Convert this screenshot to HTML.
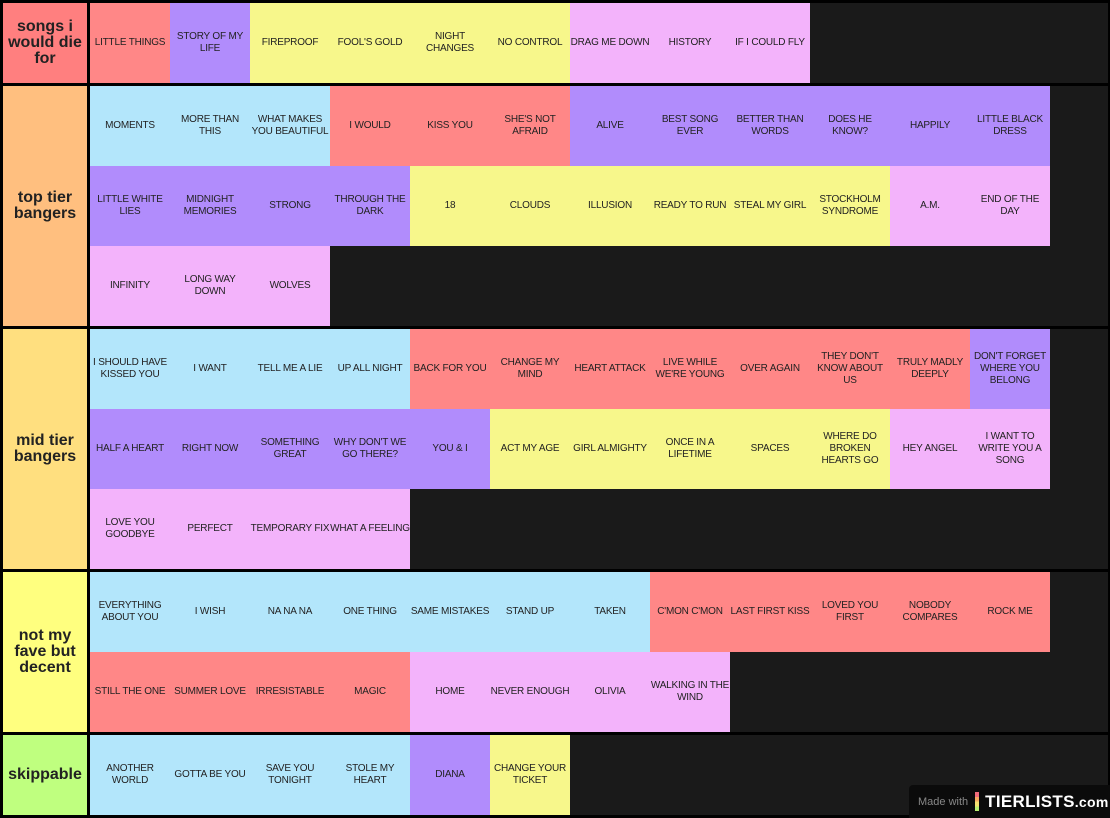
<!DOCTYPE html><html><head><meta charset="utf-8"><style>
body{margin:0;width:1110px;height:818px;background:#000;position:relative;overflow:hidden;font-family:"Liberation Sans",sans-serif}
.row{position:absolute;left:0;width:1110px}
.lab{position:absolute;left:3px;top:0;width:84px;bottom:0;display:flex;align-items:center;justify-content:center;text-align:center;font-size:16px;font-weight:bold;color:#222;line-height:16px}
.items{position:absolute;left:90px;top:0;right:2px;bottom:0;background:#1a1a1a;display:flex;flex-wrap:wrap;align-content:flex-start}
.i{width:80px;height:80px;display:flex;align-items:center;justify-content:center;text-align:center;font-size:10px;letter-spacing:-0.2px;color:#222;line-height:12px;text-transform:uppercase}
.r{background:#ff8787}.p{background:#b18cfc}.y{background:#f7f78b}.k{background:#f3b3fb}.b{background:#b3e6fb}
.wm{position:absolute;left:909px;top:785px;width:201px;height:33px;background:#0b0b0b;border-radius:4px 0 0 0;color:#888;font-size:11px;display:flex;align-items:center}
</style></head><body>
<div class="row" style="top:3px;height:80px"><div class="lab" style="background:#ff7f7f">songs i<br>would die<br>for</div><div class="items">
<div class="i r">little things</div><div class="i p">story of my life</div><div class="i y">fireproof</div><div class="i y">fool's gold</div><div class="i y">night changes</div><div class="i y">no control</div><div class="i k">drag me down</div><div class="i k">history</div><div class="i k">if i could fly</div></div></div>
<div class="row" style="top:86px;height:240px"><div class="lab" style="background:#ffbf7f">top tier<br>bangers</div><div class="items">
<div class="i b">moments</div><div class="i b">more than this</div><div class="i b">what makes you beautiful</div><div class="i r">i would</div><div class="i r">kiss you</div><div class="i r">she's not afraid</div><div class="i p">alive</div><div class="i p">best song ever</div><div class="i p">better than words</div><div class="i p">does he know?</div><div class="i p">happily</div><div class="i p">little black dress</div>
<div class="i p">little white lies</div><div class="i p">midnight memories</div><div class="i p">strong</div><div class="i p">through the dark</div><div class="i y">18</div><div class="i y">clouds</div><div class="i y">illusion</div><div class="i y">ready to run</div><div class="i y">steal my girl</div><div class="i y">stockholm syndrome</div><div class="i k">a.m.</div><div class="i k">end of the day</div>
<div class="i k">infinity</div><div class="i k">long way down</div><div class="i k">wolves</div></div></div>
<div class="row" style="top:329px;height:240px"><div class="lab" style="background:#ffdf7f">mid tier<br>bangers</div><div class="items">
<div class="i b">i should have kissed you</div><div class="i b">i want</div><div class="i b">tell me a lie</div><div class="i b">up all night</div><div class="i r">back for you</div><div class="i r">change my mind</div><div class="i r">heart attack</div><div class="i r">live while we're young</div><div class="i r">over again</div><div class="i r">they don't know about us</div><div class="i r">truly madly deeply</div><div class="i p">don't forget where you belong</div>
<div class="i p">half a heart</div><div class="i p">right now</div><div class="i p">something great</div><div class="i p">why don't we go there?</div><div class="i p">you &amp; i</div><div class="i y">act my age</div><div class="i y">girl almighty</div><div class="i y">once in a lifetime</div><div class="i y">spaces</div><div class="i y">where do broken hearts go</div><div class="i k">hey angel</div><div class="i k">i want to write you a song</div>
<div class="i k">love you goodbye</div><div class="i k">perfect</div><div class="i k">temporary fix</div><div class="i k">what a feeling</div></div></div>
<div class="row" style="top:572px;height:160px"><div class="lab" style="background:#ffff7f">not my<br>fave but<br>decent</div><div class="items">
<div class="i b">everything about you</div><div class="i b">i wish</div><div class="i b">na na na</div><div class="i b">one thing</div><div class="i b">same mistakes</div><div class="i b">stand up</div><div class="i b">taken</div><div class="i r">c'mon c'mon</div><div class="i r">last first kiss</div><div class="i r">loved you first</div><div class="i r">nobody compares</div><div class="i r">rock me</div>
<div class="i r">still the one</div><div class="i r">summer love</div><div class="i r">irresistable</div><div class="i r">magic</div><div class="i k">home</div><div class="i k">never enough</div><div class="i k">olivia</div><div class="i k">walking in the wind</div></div></div>
<div class="row" style="top:735px;height:80px"><div class="lab" style="background:#bfff7f">skippable</div><div class="items">
<div class="i b">another world</div><div class="i b">gotta be you</div><div class="i b">save you tonight</div><div class="i b">stole my heart</div><div class="i p">diana</div><div class="i y">change your ticket</div></div></div>
<div class="wm"><span style="margin-left:9px">Made with</span>
<span style="display:inline-block;margin-left:7px;width:4px;height:19px;background:linear-gradient(#f06a7a 0 25%,#f5a860 25% 50%,#f3e070 50% 75%,#b8f070 75%)"></span>
<span style="margin-left:6px;color:#fff;font-weight:bold;font-size:17px;letter-spacing:0.3px">TIERLISTS<span style="font-size:14px">.com</span></span></div>
</body></html>
